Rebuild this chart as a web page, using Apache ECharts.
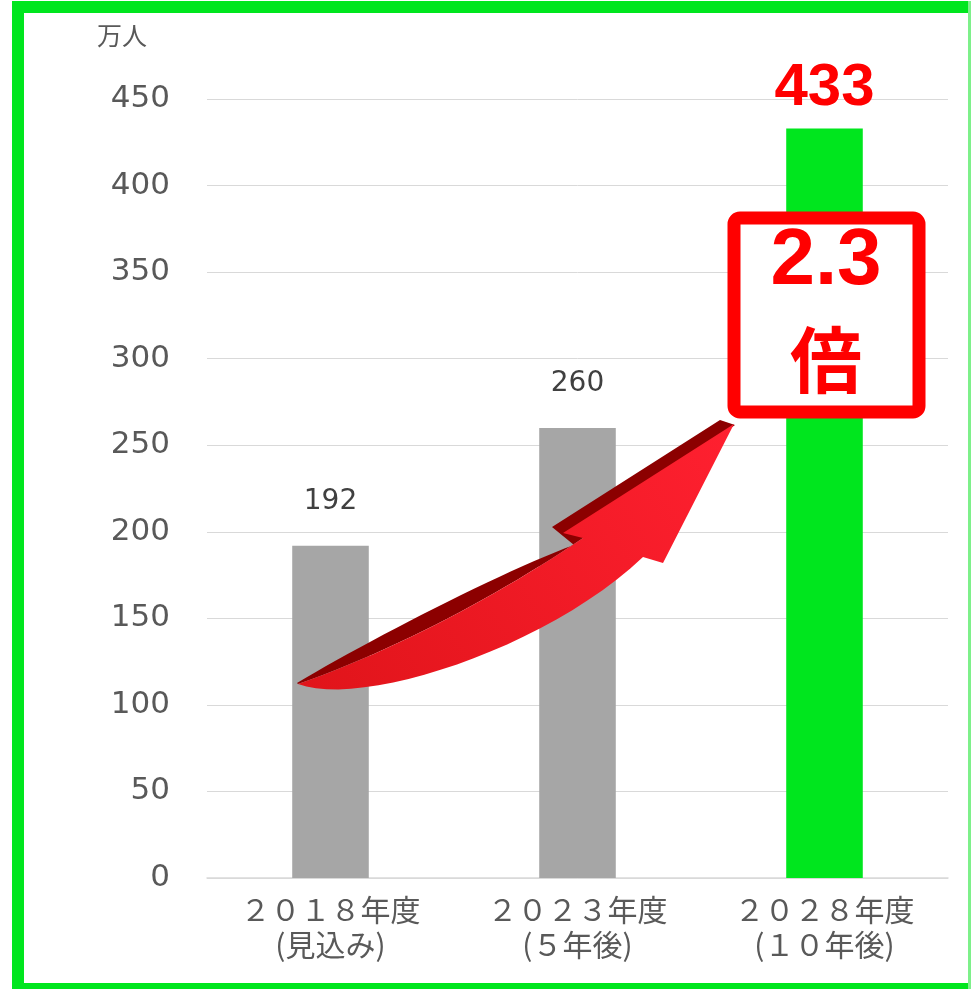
<!DOCTYPE html>
<html>
<head>
<meta charset="utf-8">
<script src="https://cdn.jsdelivr.net/npm/echarts@6/dist/echarts.min.js"></script>
<style>html,body{margin:0;padding:0;background:#fff}#c{width:971px;height:989px}</style>
</head>
<body>
<div id="c"></div>
<script>
const categories = ['２０１８年度\n(見込み)', '２０２３年度\n(５年後)', '２０２８年度\n(１０年後)'];
const values = [192, 260, 433];
const barColors = ['#a6a6a6', '#a6a6a6', '#00e61e'];
const yTicks = { min: 0, max: 450, interval: 50 };
const unitLabel = '万人';
const ratioText = ['2.3', '倍'];

const chart = echarts.init(document.getElementById('c'), null, { renderer: 'canvas' });

// cubic bezier sampling for the decorative arrow outline
function bez(p0, p1, p2, p3, n) {
  const pts = [];
  for (let k = 0; k <= n; k++) {
    const t = k / n, u = 1 - t;
    pts.push([
      u*u*u*p0[0] + 3*u*u*t*p1[0] + 3*u*t*t*p2[0] + t*t*t*p3[0],
      u*u*u*p0[1] + 3*u*u*t*p1[1] + 3*u*t*t*p2[1] + t*t*t*p3[1]
    ]);
  }
  return pts;
}
const darkPts = [].concat(
  bez([297,683],[365,642],[505,570],[574,545],24),
  [[552,527],[720,420],[735,425]],
  bez([583,538],[500,594],[400,648],[298,684],24)
);
const bodyPts = [].concat(
  bez([298,684],[360,708],[545,650],[643,557],24),
  [[663,563],[734,424],[563,533]],
  bez([583,538],[500,594],[400,648],[298,684],24)
);

const seriesData = values.map((v, i) => {
  const highlight = i === values.length - 1;
  return {
    value: v,
    itemStyle: { color: barColors[i] },
    label: highlight ? {
      color: '#ff0000', fontSize: 60, fontWeight: 'bold', fontFamily: 'Liberation Sans', distance: 10
    } : {
      color: '#404040', fontSize: 28, fontFamily: 'DejaVu Sans', distance: 30
    }
  };
});

const green = '#00e61e';
const option = {
  animation: false,
  backgroundColor: '#ffffff',
  grid: { left: 207, right: 23, top: 99, bottom: 111 },
  xAxis: {
    type: 'category',
    data: categories,
    axisTick: { show: false },
    axisLine: { lineStyle: { color: '#d9d9d9', width: 1.5 } },
    axisLabel: {
      color: '#595959', fontSize: 30, lineHeight: 35, margin: 14,
      fontFamily: 'Noto Sans CJK JP', interval: 0
    }
  },
  yAxis: {
    type: 'value',
    min: yTicks.min, max: yTicks.max, interval: yTicks.interval,
    axisLine: { show: false },
    axisTick: { show: false },
    splitLine: { lineStyle: { color: '#d9d9d9', width: 1 } },
    axisLabel: { color: '#595959', fontSize: 31, fontFamily: 'DejaVu Sans', margin: 37 }
  },
  series: [{
    type: 'bar',
    data: seriesData,
    barWidth: '31%',
    label: { show: true, position: 'top' }
  }],
  graphic: [
    { type: 'text', z: 100, left: 97, top: 23,
      style: { text: unitLabel, fill: '#595959', font: '25px "Noto Sans CJK JP"' } },
    { type: 'polygon', z: 100, shape: { points: darkPts }, style: { fill: '#8c0000' } },
    { type: 'polygon', z: 101, shape: { points: bodyPts },
      style: { fill: { type: 'linear', x: 0, y: 1, x2: 1, y2: 0, colorStops: [
        { offset: 0, color: '#e0141a' }, { offset: 1, color: '#ff2030' }
      ] } } },
    { type: 'rect', z: 102,
      shape: { x: 734, y: 218, width: 185, height: 194, r: 6 },
      style: { fill: '#ffffff', stroke: '#ff0000', lineWidth: 13 } },
    { type: 'text', z: 103, x: 826, y: 262,
      style: { text: ratioText[0], fill: '#ff0000', font: 'bold 80px "Liberation Sans"', align: 'center', verticalAlign: 'middle' } },
    { type: 'text', z: 103, x: 826, y: 360,
      style: { text: ratioText[1], fill: '#ff0000', font: 'bold 72px "Noto Sans CJK JP"', align: 'center', verticalAlign: 'middle' } },
    { type: 'rect', z: 110, shape: { x: 12, y: 1, width: 12, height: 988 }, style: { fill: green } },
    { type: 'rect', z: 110, shape: { x: 12, y: 1, width: 959, height: 12 }, style: { fill: green } },
    { type: 'rect', z: 110, shape: { x: 12, y: 983, width: 959, height: 6 }, style: { fill: green } },
    { type: 'rect', z: 110, shape: { x: 968, y: 1, width: 3, height: 988 }, style: { fill: '#7ef08a' } }
  ]
};
chart.setOption(option);
</script>
</body>
</html>
